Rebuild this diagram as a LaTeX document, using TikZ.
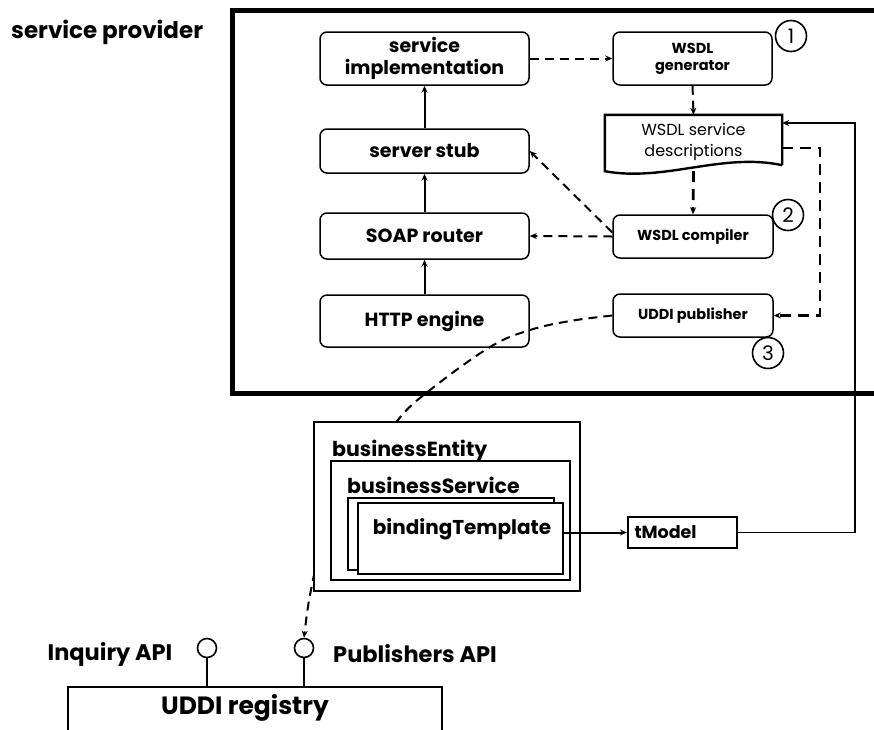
\documentclass[tikz,border=0pt]{standalone}
\usepackage{fontspec}
\setmainfont{Poppins}
\usetikzlibrary{arrows.meta,calc}

\begin{document}
\begin{tikzpicture}[x=1pt,y=-1pt,
  tip/.style={-{Stealth[length=7pt,width=6pt]}},
  rbox/.style={draw,line width=1.5pt,rounded corners=7pt,font=\bfseries\fontsize{19}{22}\selectfont,align=center,inner sep=0pt},
  sbox/.style={rbox,font=\bfseries\fontsize{14.5}{17}\selectfont},
  num/.style={draw,circle,line width=1.6pt,minimum size=31pt,inner sep=0pt,font=\fontsize{20}{20}\selectfont},
  plain/.style={draw,line width=1.6pt,inner sep=0pt},
  lbl/.style={font=\bfseries\fontsize{20.5}{24}\selectfont,inner sep=0pt},
  dash1/.style={line width=2pt,dash pattern=on 9pt off 6pt},
  dash2/.style={line width=2.8pt,dash pattern=on 11pt off 7pt},
  solid arrow/.style={line width=2pt,tip},
  lolly/.style={draw,circle,line width=1.6pt,minimum size=19pt,inner sep=0pt,fill=white}
]
\useasboundingbox (0,0) rectangle (874,729);
\clip (0,0) rectangle (874,729);

% provider frame, open to the right
\draw[line width=5pt] (890,10) -- (232,10) -- (232,393) -- (890,393);
\node[lbl,font=\bfseries\fontsize{23}{26}\selectfont,anchor=west] (sp) at (11,32) {service provider};

% SOAP server stack
\node[rbox,minimum width=209pt,minimum height=53pt] (impl) at (424.5,58.5) {service\\implementation};
\node[rbox,minimum width=209pt,minimum height=44pt] (stub) at (424.5,151) {server stub};
\node[rbox,minimum width=209pt,minimum height=46pt] (soap) at (424.5,236) {SOAP router};
\node[rbox,minimum width=209pt,minimum height=52pt] (http) at (424.5,321) {HTTP engine};

\draw[solid arrow] (http.north) -- (soap.south);
\draw[solid arrow] (soap.north) -- (stub.south);
\draw[solid arrow] (stub.north) -- (impl.south);

% WSDL tools
\node[sbox,minimum width=159pt,minimum height=53pt] (gen) at (692.5,58.5) {WSDL\\generator};
\node[sbox,minimum width=160pt,minimum height=43pt] (comp) at (693,236.5) {WSDL compiler};
\node[sbox,minimum width=160pt,minimum height=43pt] (pub) at (693,315.5) {UDDI publisher};

\node[num] (n1) at (791,36) {1};
\node[num] (n2) at (788,215) {2};
\node[num] (n3) at (768,353) {3};

% WSDL document with wavy lower edge
\node[inner sep=0pt,minimum width=177pt,minimum height=53pt,align=center,
      font=\fontsize{16}{21}\selectfont] (doc) at (693.5,141.5) {WSDL service\\descriptions};
\draw[line width=2.4pt,line join=miter]
  ($(doc.south east)+(0,-3)$) -- (doc.north east) -- (doc.north west) -- ($(doc.south west)+(0,3)$)
  .. controls ($(doc.south west)+(60,14)$) and ($(doc.south east)+(-60,-16)$) .. ($(doc.south east)+(0,-3)$);

\draw[dash1,tip] (impl.east) -- (gen.west);
\draw[dash1,tip] (gen.south) -- (doc.north);
\draw[dash2,tip] ($(doc.south)+(0,3)$) -- (comp.north);
\draw[dash1,tip] (comp.west) -- (soap.east);
\draw[dash1,tip] ($(comp.west)+(0,-4)$) -- (stub.east);
\coordinate (dr) at (820,148);
\draw[dash2,tip] ($(doc.east)+(0,6.5)$) -- (dr) -- (dr |- pub.east) -- (pub.east);

% UDDI registry and its interfaces
\node[draw,line width=2.2pt,minimum width=374pt,minimum height=80pt,anchor=north] (reg) at (255,686) {};
\node[lbl,font=\bfseries\fontsize{25}{28}\selectfont] (regl) at (245,708) {UDDI registry};
\node[lolly] (ia) at (207,648) {};
\node[lolly] (pa) at (304,648) {};
\draw[line width=1.8pt] (ia.south) -- (ia |- reg.north);
\draw[line width=1.8pt] (pa.south) -- (pa |- reg.north);
\node[lbl,font=\bfseries\fontsize{22.5}{26}\selectfont] (ial) at (110,654) {Inquiry API};
\node[lbl,font=\bfseries\fontsize{22.5}{26}\selectfont] (pal) at (415,654) {Publishers API};

% publishing path from the publisher to the registry
\draw[dash1,tip] plot[smooth,tension=0.6] coordinates
  {(pub.west) (570,321) (530,330) (490,347) (430,390) (397,421) (352,485) (322,548) (310,595) (pa.north)};

% UDDI data structures
\node[plain,fill=white,minimum width=266pt,minimum height=169pt] (be) at (447,506.5) {};
\node[plain,fill=white,minimum width=239pt,minimum height=119pt] (bs) at (450.5,520.5) {};
\node[plain,fill=white,minimum width=206pt,minimum height=72pt] (bt2) at (451,534) {};
\node[plain,fill=white,minimum width=205pt,minimum height=71pt] (bt) at (460.5,538.5) {};
\node[lbl,anchor=base west] at (332,456) {businessEntity};
\node[lbl,anchor=base west] at (347,493) {businessService};
\node[lbl,font=\bfseries\fontsize{20}{24}\selectfont,anchor=base] at (462,534) {bindingTemplate};

\node[plain,line width=2.2pt,minimum width=109pt,minimum height=31pt,text width=96pt,align=left,
      font=\bfseries\fontsize{17.5}{20}\selectfont] (tm) at (682.5,532.5) {tModel};
\draw[line width=2pt,tip] (tm.west -| bt.east) -- (tm.west);

\coordinate (rt) at (855,123);
\draw[line width=1.2pt,tip] (tm.east) -- (tm.east -| rt) -- (rt) -- (rt -| doc.east);
\end{tikzpicture}
\end{document}
